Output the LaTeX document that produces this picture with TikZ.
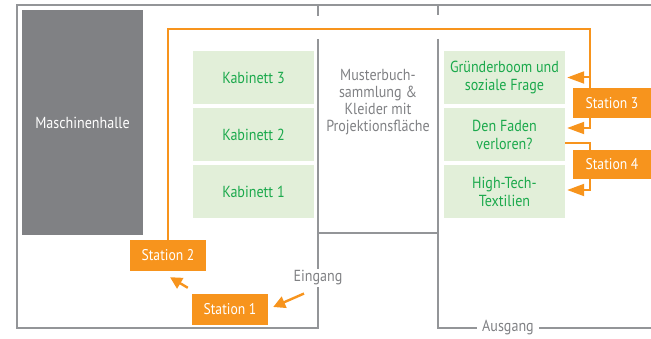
\documentclass[tikz,border=0pt]{standalone}
\usepackage{fontspec}
\setmainfont{PT Sans}[FakeStretch=0.88]
\usetikzlibrary{arrows.meta}
\definecolor{orng}{HTML}{F7941D}
\definecolor{wall}{HTML}{939598}
\definecolor{hall}{HTML}{808184}
\definecolor{grfill}{HTML}{E2EFD9}
\definecolor{grtext}{HTML}{1BA94C}
\definecolor{gtext}{HTML}{808184}
\begin{document}
\begin{tikzpicture}[x=1pt,y=-1pt,
  walls/.style={draw=wall,line width=1.4pt},
  room/.style={fill=grfill,text=grtext,minimum width=121pt,inner sep=0pt,align=center,font=\fontsize{16}{18}\selectfont},
  stat/.style={fill=orng,text=white,inner sep=0pt,font=\fontsize{15.5}{16}\selectfont},
  route/.style={draw=orng,line width=2pt},
  arr/.style={route,-{Triangle[length=17pt,width=12pt]}},
  sarr/.style={draw=orng,line width=2.4pt,-{Triangle[length=12pt,width=12pt]}},
  lbl/.style={text=gtext,font=\fontsize{16}{17}\selectfont,align=center}]
\useasboundingbox (0,0) rectangle (651,339);
% walls
\draw[walls] (318,16) -- (318,5) -- (17,5) -- (17,328) -- (318,328) -- (318,39);
\draw[walls] (318,5) -- (651,5);
\draw[walls] (438,5) -- (438,15);
\draw[walls] (438,39) -- (438,328) -- (651,328);
\draw[walls] (318,233) -- (438,233);
% rooms
\node[fill=hall,text=white,minimum width=121pt,minimum height=225pt,inner sep=0pt,font=\fontsize{16}{16}\selectfont] (mh) at (82.5,122.5) {Maschinenhalle};
\node[room,minimum height=53pt] (k3) at (253.5,77.5) {Kabinett 3};
\node[room,minimum height=53pt] (k2) at (253.5,134.5) {Kabinett 2};
\node[room,minimum height=53pt] (k1) at (253.5,191.5) {Kabinett 1};
\node[room,minimum height=53pt] (g) at (504.5,77.5) {Gründerboom und\\soziale Frage};
\node[room,minimum height=53pt] (f) at (504.5,134.5) {Den Faden\\verloren?};
\node[room,minimum height=53pt] (h) at (504.5,191.5) {High-Tech-\\Textilien};
\node[lbl] (m) at (378,102) {Musterbuch-\\sammlung \&\\Kleider mit\\Projektionsfläche};
\node[lbl,fill=white,inner sep=2pt] (ein) at (318,278) {Eingang};
\node[lbl,fill=white,inner xsep=5pt,inner ysep=2pt] (aus) at (508,328) {Ausgang};
% stations
\node[stat,minimum width=78pt,minimum height=30pt] (s3) at (612,103) {Station 3};
\node[stat,minimum width=78pt,minimum height=29pt] (s4) at (612,164.5) {Station 4};
\node[stat,minimum width=76pt,minimum height=31pt] (s2) at (168,255.5) {Station 2};
\node[stat,minimum width=76pt,minimum height=31pt] (s1) at (230,309.5) {Station 1};
% route
\coordinate (turn) at (590,29);
\draw[route] (s2.north) |- (turn) -- (turn |- s3.north);
\draw[arr] (turn |- g.east) -- ([xshift=2pt]g.east);
\draw[arr] (s3.south -| turn) |- ([xshift=2pt,yshift=6.5pt]f.east);
\draw[route] ([yshift=-8.5pt]f.east) -| (turn |- s4.north);
\draw[arr] (s4.south -| turn) |- ([xshift=2pt,yshift=1.5pt]h.south east |- h.east);
\draw[sarr] ([xshift=-4pt,yshift=6pt]s1.north west) -- ([xshift=2pt,yshift=-6pt]s2.south);
\draw[sarr] ([xshift=-14pt,yshift=-6pt]ein.south) -- ([xshift=5pt,yshift=2.5pt]s1.east);
\end{tikzpicture}
\end{document}
